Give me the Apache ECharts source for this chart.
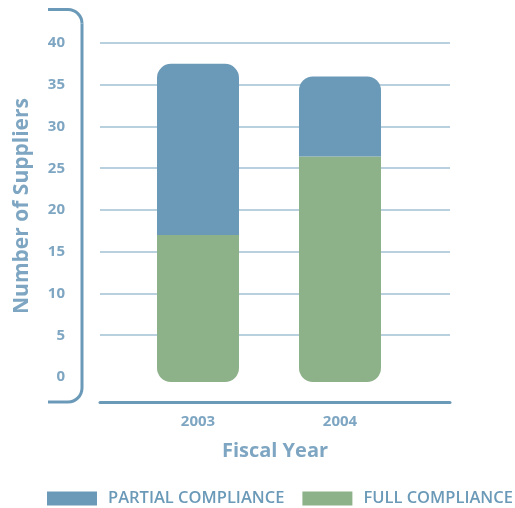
<!DOCTYPE html>
<html>
<head>
<meta charset="utf-8">
<script src="https://cdn.jsdelivr.net/npm/echarts@6/dist/echarts.min.js"></script>
<style>
  html, body { margin: 0; padding: 0; background: #fff; }
  #main { width: 515px; height: 508px; }
</style>
</head>
<body>
<div id="main"></div>
<script>
// data
var years = ['2003', '2004'];
var fullCompliance = [17, 26.4];
var partialCompliance = [20.5, 9.6];
var yTicks = [0, 5, 10, 15, 20, 25, 30, 35, 40];

var blue = '#6b9ab8';
var green = '#8db188';
var textColor = '#7ea6c2';
var font = 'Open Sans';

var chart = echarts.init(document.getElementById('main'));

// bracket-shaped y axis line (decoration)
var bracketStyle = { fill: null, stroke: blue, lineWidth: 3 };
var bracket = [
    { type: 'line', shape: { x1: 48, y1: 9.5, x2: 68, y2: 9.5 }, style: bracketStyle },
    { type: 'arc', shape: { cx: 68, cy: 23.5, r: 14, startAngle: -Math.PI / 2, endAngle: 0, clockwise: true }, style: bracketStyle },
    { type: 'line', shape: { x1: 82, y1: 23.5, x2: 82, y2: 388 }, style: bracketStyle },
    { type: 'arc', shape: { cx: 68, cy: 388, r: 14, startAngle: 0, endAngle: Math.PI / 2, clockwise: true }, style: bracketStyle },
    { type: 'line', shape: { x1: 68, y1: 402, x2: 48, y2: 402 }, style: bracketStyle }
];

var options = {
    animation: false,
    textStyle: { fontFamily: font },
    legend: {
        left: 47,
        top: 490,
        padding: 0,
        itemWidth: 50,
        itemHeight: 14,
        itemGap: 18,
        icon: 'rect',
        data: ['PARTIAL COMPLIANCE', 'FULL COMPLIANCE'],
        textStyle: {
            color: blue,
            fontSize: 16.5,
            fontWeight: 600,
            fontFamily: font,
            padding: [0, 0, 0, 6]
        }
    },
    grid: [
        { left: 100, right: 65, top: 43, bottom: 126 },
        { left: 127, right: 104, top: 43, bottom: 126 }
    ],
    xAxis: [
        {
            gridIndex: 0,
            type: 'value',
            min: 0,
            max: 1,
            offset: 20,
            axisLine: { show: true, onZero: false, lineStyle: { color: blue, width: 3 } },
            axisTick: { show: false },
            axisLabel: { show: false },
            splitLine: { show: false },
            name: 'Fiscal Year',
            nameLocation: 'middle',
            nameGap: 39,
            nameTextStyle: { color: textColor, fontSize: 20, fontWeight: 'bold', fontFamily: font }
        },
        {
            gridIndex: 1,
            type: 'category',
            data: years,
            offset: 20,
            axisLine: { show: false },
            axisTick: { show: false },
            axisLabel: { color: textColor, fontSize: 15, fontWeight: 'bold', margin: 12, fontFamily: font }
        }
    ],
    yAxis: [
        {
            gridIndex: 0,
            type: 'value',
            min: -0.6,
            max: 40,
            axisLine: { show: false },
            axisTick: { show: false, customValues: yTicks.slice(1) },
            axisLabel: {
                customValues: yTicks,
                color: textColor,
                fontSize: 15,
                fontWeight: 'bold',
                margin: 35,
                fontFamily: font
            },
            splitLine: { show: true, lineStyle: { color: '#b9d0df', width: 2 } }
        },
        {
            gridIndex: 1,
            type: 'value',
            min: -0.6,
            max: 40,
            startValue: -0.6,
            show: false,
            splitLine: { show: false }
        }
    ],
    graphic: bracket.concat([
        {
            type: 'text',
            x: 22,
            y: 206,
            rotation: Math.PI / 2,
            style: {
                text: 'Number of Suppliers',
                fill: textColor,
                font: 'bold 21px "Open Sans"',
                textAlign: 'center',
                textVerticalAlign: 'middle'
            }
        }
    ]),
    series: [
        {
            name: 'FULL COMPLIANCE',
            type: 'bar',
            stack: 'suppliers',
            xAxisIndex: 1,
            yAxisIndex: 1,
            barWidth: 82,
            data: fullCompliance,
            itemStyle: { color: green, borderRadius: [0, 0, 14, 14] }
        },
        {
            name: 'PARTIAL COMPLIANCE',
            type: 'bar',
            stack: 'suppliers',
            xAxisIndex: 1,
            yAxisIndex: 1,
            barWidth: 82,
            data: partialCompliance,
            itemStyle: { color: blue, borderRadius: [14, 14, 0, 0] }
        }
    ]
};

chart.setOption(options);
</script>
</body>
</html>
